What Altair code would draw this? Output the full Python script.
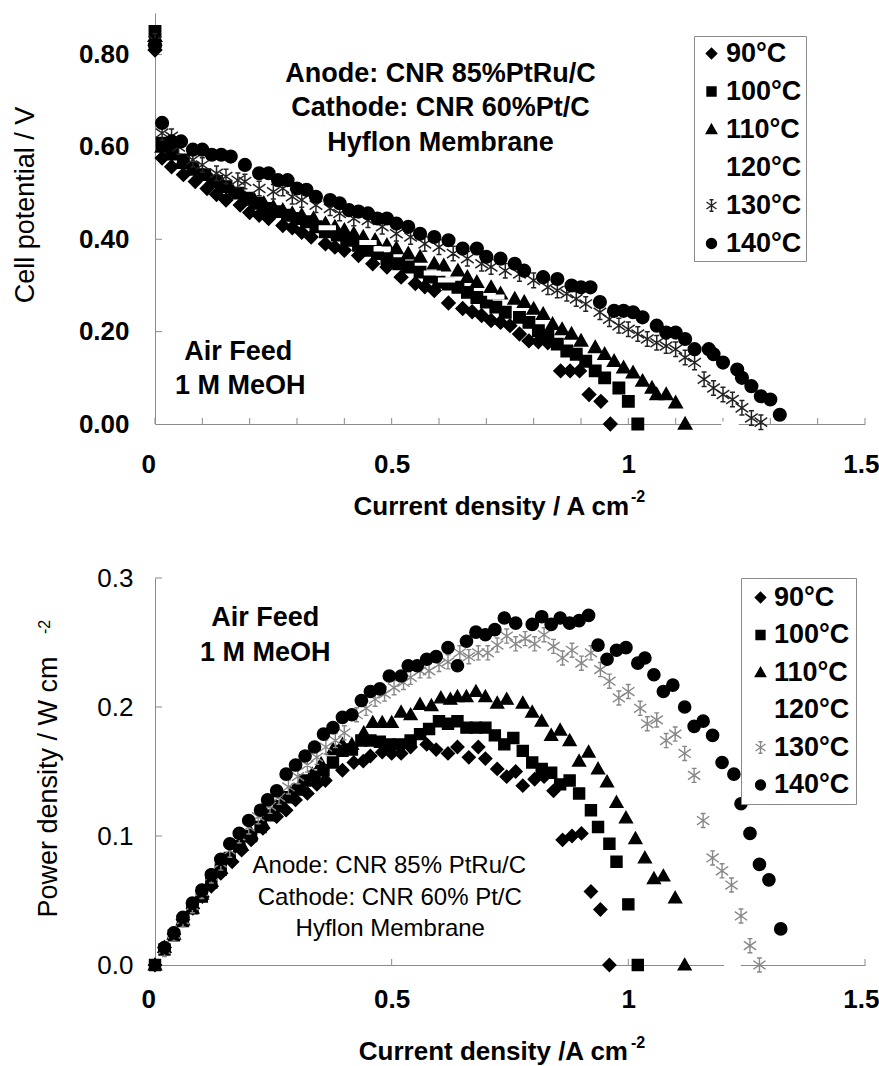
import altair as alt
import pandas as pd

FONT = "Liberation Sans"
AXC = "#8a8a8a"
SERIES = ["90°C", "100°C", "110°C", "120°C", "130°C", "140°C"]

# ---------------- top panel: cell potential (V) vs current density ----------------
I90 = [0, 0, 0.015, 0.035, 0.06, 0.085, 0.11, 0.13, 0.15, 0.18, 0.20, 0.22, 0.24, 0.27, 0.29, 0.31, 0.33, 0.36, 0.38, 0.40,
       0.43, 0.46, 0.49, 0.52, 0.55, 0.57, 0.59, 0.62, 0.65, 0.67, 0.69, 0.71, 0.73, 0.75, 0.77, 0.79, 0.81, 0.83, 0.857, 0.877,
       0.897, 0.917, 0.942, 0.962]
V90 = [0.81, 0.82, 0.576, 0.557, 0.54, 0.525, 0.51, 0.497, 0.485, 0.474, 0.458, 0.452, 0.445, 0.43, 0.425, 0.415, 0.405, 0.39,
       0.383, 0.376, 0.365, 0.347, 0.34, 0.318, 0.304, 0.297, 0.289, 0.262, 0.25, 0.243, 0.235, 0.224, 0.22, 0.213, 0.195, 0.18,
       0.178, 0.176, 0.115, 0.115, 0.115, 0.064, 0.049, 0.0]
I100 = [0, 0.015, 0.035, 0.06, 0.08, 0.105, 0.13, 0.15, 0.175, 0.195, 0.215, 0.235, 0.26, 0.28, 0.30, 0.32, 0.34, 0.36, 0.385,
        0.405, 0.43, 0.45, 0.47, 0.49, 0.515, 0.535, 0.56, 0.58, 0.60, 0.62, 0.64, 0.66, 0.68, 0.70, 0.72, 0.74, 0.77, 0.79, 0.81,
        0.83, 0.85, 0.87, 0.89, 0.91, 0.93, 0.95, 0.98, 1.0, 1.02]
V100 = [0.85, 0.608, 0.59, 0.572, 0.554, 0.54, 0.525, 0.514, 0.5, 0.489, 0.478, 0.467, 0.46, 0.452, 0.445, 0.438, 0.427, 0.416,
        0.409, 0.398, 0.387, 0.376, 0.369, 0.358, 0.347, 0.34, 0.329, 0.318, 0.307, 0.303, 0.296, 0.285, 0.274, 0.264, 0.253,
        0.242, 0.231, 0.22, 0.202, 0.191, 0.173, 0.158, 0.151, 0.136, 0.115, 0.1, 0.078, 0.049, 0.0]
I110 = [0, 0.015, 0.035, 0.055, 0.08, 0.10, 0.12, 0.145, 0.165, 0.19, 0.21, 0.23, 0.25, 0.27, 0.29, 0.31, 0.335, 0.36, 0.38,
        0.40, 0.42, 0.44, 0.465, 0.49, 0.51, 0.535, 0.56, 0.59, 0.61, 0.64, 0.66, 0.68, 0.71, 0.73, 0.76, 0.78, 0.80, 0.82, 0.84,
        0.86, 0.88, 0.90, 0.93, 0.95, 0.97, 0.99, 1.01, 1.03, 1.05, 1.06, 1.08, 1.10, 1.12]
V110 = [0.84, 0.60, 0.583, 0.565, 0.55, 0.54, 0.528, 0.514, 0.503, 0.489, 0.485, 0.478, 0.47, 0.463, 0.456, 0.452, 0.445, 0.434,
        0.427, 0.42, 0.412, 0.405, 0.398, 0.387, 0.38, 0.369, 0.362, 0.347, 0.343, 0.332, 0.318, 0.307, 0.296, 0.282, 0.271,
        0.264, 0.249, 0.238, 0.216, 0.205, 0.195, 0.18, 0.166, 0.151, 0.136, 0.122, 0.111, 0.093, 0.078, 0.064, 0.064, 0.046, 0.0]
I120 = [0.364, 0.45, 0.48, 0.586, 0.616, 0.72, 1.215]
V120 = [0.425, 0.393, 0.379, 0.327, 0.312, 0.275, 0.0]
I130 = [0, 0.015, 0.035, 0.05, 0.08, 0.10, 0.13, 0.15, 0.175, 0.19, 0.22, 0.25, 0.27, 0.29, 0.31, 0.34, 0.37, 0.39, 0.42, 0.45,
        0.48, 0.51, 0.54, 0.57, 0.60, 0.63, 0.66, 0.69, 0.71, 0.74, 0.77, 0.80, 0.83, 0.85, 0.87, 0.89, 0.91, 0.94, 0.96, 0.98,
        1.0, 1.02, 1.04, 1.06, 1.08, 1.10, 1.12, 1.14, 1.16, 1.18, 1.20, 1.22, 1.24, 1.26, 1.28]
V130 = [0.83, 0.63, 0.623, 0.60, 0.572, 0.561, 0.543, 0.536, 0.528, 0.525, 0.51, 0.503, 0.51, 0.492, 0.485, 0.474, 0.467, 0.456,
        0.445, 0.441, 0.427, 0.412, 0.405, 0.39, 0.383, 0.369, 0.358, 0.347, 0.34, 0.332, 0.325, 0.311, 0.296, 0.289, 0.282,
        0.271, 0.26, 0.242, 0.227, 0.213, 0.205, 0.195, 0.184, 0.176, 0.169, 0.162, 0.144, 0.133, 0.097, 0.078, 0.064, 0.053,
        0.035, 0.013, 0.004]
I140 = [0, 0.015, 0.035, 0.055, 0.08, 0.10, 0.12, 0.14, 0.16, 0.19, 0.22, 0.24, 0.26, 0.28, 0.30, 0.32, 0.34, 0.37, 0.39, 0.41,
        0.43, 0.45, 0.47, 0.49, 0.51, 0.535, 0.56, 0.59, 0.62, 0.65, 0.68, 0.70, 0.73, 0.76, 0.78, 0.82, 0.85, 0.88, 0.90, 0.92,
        0.94, 0.97, 0.99, 1.01, 1.03, 1.06, 1.08, 1.10, 1.12, 1.14, 1.17, 1.18, 1.20, 1.23, 1.24, 1.26, 1.28, 1.30, 1.32]
V140 = [0.82, 0.652, 0.612, 0.612, 0.594, 0.594, 0.583, 0.583, 0.579, 0.561, 0.543, 0.543, 0.528, 0.528, 0.51, 0.507, 0.492,
        0.485, 0.478, 0.463, 0.46, 0.456, 0.445, 0.445, 0.434, 0.427, 0.412, 0.405, 0.398, 0.38, 0.38, 0.362, 0.358, 0.347,
        0.332, 0.318, 0.314, 0.30, 0.296, 0.296, 0.264, 0.245, 0.245, 0.242, 0.231, 0.213, 0.198, 0.198, 0.184, 0.162, 0.162,
        0.151, 0.133, 0.118, 0.10, 0.082, 0.06, 0.053, 0.02]

# ---------------- bottom panel: power density vs current density ----------------
J90 = [0, 0.02, 0.04, 0.059, 0.08, 0.10, 0.119, 0.139, 0.163, 0.183, 0.203, 0.228, 0.257, 0.277, 0.297, 0.322, 0.342, 0.36,
       0.396, 0.42, 0.44, 0.455, 0.48, 0.50, 0.52, 0.54, 0.574, 0.594, 0.619, 0.639, 0.663, 0.683, 0.698, 0.723, 0.743, 0.762,
       0.777, 0.802, 0.822, 0.842, 0.861, 0.881, 0.901, 0.921, 0.941, 0.96]
P90 = [0, 0.0136, 0.024, 0.035, 0.044, 0.053, 0.061, 0.071, 0.08, 0.089, 0.097, 0.106, 0.115, 0.12, 0.128, 0.133, 0.14, 0.143,
       0.151, 0.157, 0.158, 0.162, 0.165, 0.164, 0.164, 0.169, 0.171, 0.167, 0.164, 0.169, 0.161, 0.169, 0.16, 0.152, 0.146,
       0.15, 0.139, 0.144, 0.146, 0.135, 0.097, 0.1, 0.102, 0.057, 0.043, 0.0]
J100 = [0, 0.02, 0.04, 0.059, 0.079, 0.099, 0.119, 0.139, 0.158, 0.178, 0.203, 0.223, 0.243, 0.262, 0.282, 0.302, 0.317, 0.337,
        0.356, 0.376, 0.396, 0.416, 0.436, 0.455, 0.475, 0.495, 0.515, 0.54, 0.56, 0.579, 0.60, 0.619, 0.639, 0.658, 0.678,
        0.698, 0.718, 0.738, 0.757, 0.777, 0.797, 0.817, 0.837, 0.856, 0.876, 0.896, 0.921, 0.936, 0.96, 0.975, 1.0, 1.02]
P100 = [0, 0.012, 0.023, 0.034, 0.044, 0.053, 0.064, 0.074, 0.083, 0.092, 0.1, 0.107, 0.116, 0.123, 0.13, 0.136, 0.143, 0.146,
        0.151, 0.157, 0.166, 0.167, 0.174, 0.174, 0.173, 0.171, 0.171, 0.174, 0.179, 0.183, 0.189, 0.187, 0.189, 0.184, 0.184,
        0.184, 0.178, 0.171, 0.176, 0.166, 0.157, 0.152, 0.149, 0.14, 0.143, 0.133, 0.12, 0.107, 0.094, 0.08, 0.047, 0.0]
J110 = [0, 0.02, 0.04, 0.059, 0.079, 0.099, 0.119, 0.139, 0.158, 0.183, 0.203, 0.228, 0.248, 0.267, 0.287, 0.307, 0.332, 0.351,
        0.376, 0.396, 0.416, 0.441, 0.46, 0.48, 0.50, 0.52, 0.54, 0.56, 0.584, 0.604, 0.624, 0.639, 0.658, 0.678, 0.698, 0.723,
        0.743, 0.777, 0.797, 0.817, 0.837, 0.856, 0.876, 0.896, 0.916, 0.936, 0.955, 0.975, 0.995, 1.015, 1.035, 1.054, 1.074,
        1.099, 1.119]
P110 = [0, 0.0136, 0.024, 0.035, 0.044, 0.055, 0.065, 0.075, 0.084, 0.093, 0.102, 0.11, 0.117, 0.125, 0.133, 0.14, 0.148, 0.156,
        0.167, 0.171, 0.171, 0.18, 0.188, 0.188, 0.188, 0.196, 0.194, 0.202, 0.201, 0.207, 0.206, 0.208, 0.208, 0.212, 0.208,
        0.203, 0.206, 0.203, 0.196, 0.189, 0.178, 0.182, 0.174, 0.158, 0.165, 0.152, 0.142, 0.126, 0.114, 0.098, 0.083, 0.067,
        0.069, 0.052, 0.0]
J120 = [1.22]
P120 = [0.0]
J130 = [0.02, 0.04, 0.059, 0.079, 0.099, 0.119, 0.139, 0.158, 0.178, 0.198, 0.218, 0.243, 0.262, 0.282, 0.302, 0.322, 0.342,
        0.361, 0.381, 0.40, 0.426, 0.446, 0.465, 0.485, 0.505, 0.525, 0.54, 0.56, 0.579, 0.60, 0.619, 0.644, 0.663, 0.683, 0.703,
        0.723, 0.743, 0.762, 0.782, 0.802, 0.822, 0.842, 0.861, 0.881, 0.901, 0.921, 0.941, 0.96, 0.98, 1.0, 1.025, 1.04, 1.06,
        1.08, 1.099, 1.119, 1.139, 1.158, 1.178, 1.198, 1.218, 1.238, 1.257, 1.277]
P130 = [0.012, 0.024, 0.035, 0.046, 0.057, 0.069, 0.079, 0.089, 0.1, 0.107, 0.115, 0.123, 0.13, 0.138, 0.146, 0.155, 0.161,
        0.169, 0.174, 0.18, 0.194, 0.199, 0.206, 0.21, 0.215, 0.219, 0.223, 0.228, 0.228, 0.233, 0.235, 0.242, 0.239, 0.242,
        0.242, 0.248, 0.255, 0.249, 0.253, 0.249, 0.256, 0.247, 0.238, 0.244, 0.234, 0.242, 0.229, 0.22, 0.207, 0.212, 0.199,
        0.187, 0.19, 0.174, 0.179, 0.164, 0.147, 0.112, 0.083, 0.073, 0.062, 0.038, 0.015, 0.0]
J140 = [0.02, 0.04, 0.059, 0.079, 0.099, 0.119, 0.139, 0.158, 0.178, 0.198, 0.223, 0.238, 0.257, 0.277, 0.297, 0.317, 0.337,
        0.356, 0.376, 0.396, 0.416, 0.436, 0.455, 0.475, 0.495, 0.52, 0.535, 0.554, 0.574, 0.594, 0.619, 0.639, 0.658, 0.678,
        0.698, 0.718, 0.738, 0.762, 0.797, 0.817, 0.837, 0.856, 0.876, 0.896, 0.916, 0.936, 0.955, 0.975, 0.995, 1.02, 1.035,
        1.054, 1.074, 1.094, 1.119, 1.139, 1.158, 1.178, 1.198, 1.223, 1.238, 1.257, 1.277, 1.297, 1.322]
P140 = [0.0136, 0.025, 0.037, 0.048, 0.058, 0.07, 0.082, 0.094, 0.102, 0.112, 0.12, 0.128, 0.135, 0.148, 0.155, 0.162, 0.169,
        0.179, 0.184, 0.192, 0.194, 0.205, 0.212, 0.214, 0.224, 0.224, 0.232, 0.232, 0.237, 0.239, 0.246, 0.232, 0.251, 0.258,
        0.256, 0.26, 0.269, 0.265, 0.264, 0.27, 0.264, 0.269, 0.265, 0.267, 0.271, 0.248, 0.237, 0.244, 0.246, 0.234, 0.238,
        0.225, 0.212, 0.217, 0.2, 0.185, 0.189, 0.178, 0.157, 0.148, 0.125, 0.102, 0.078, 0.066, 0.028]

# ---------------- ticks / labels ----------------
XT_TOP = [0, 0.1, 0.2, 0.3, 0.4, 0.5, 0.6, 0.7, 0.8, 0.9, 1.0, 1.1, 1.2, 1.3, 1.4, 1.5]
YT_TOP = [0.2, 0.4, 0.6, 0.8]
XT_BOT = [0.5, 1.0, 1.5]
YT_BOT = [0.1, 0.2, 0.3]
XLAB = [0, 0.5, 1, 1.5]
YLAB_TOP = [0, 0.2, 0.4, 0.6, 0.8]
YLAB_BOT = [0, 0.1, 0.2, 0.3]

# annotations (data coordinates)
NOTE_TOP_T = ["Anode: CNR 85%PtRu/C", "Cathode: CNR 60%Pt/C", "Hyflon Membrane", "Air Feed", "1 M MeOH"]
NOTE_TOP_X = [0.603, 0.603, 0.603, 0.176, 0.18]
NOTE_TOP_Y = [0.757, 0.685, 0.608, 0.155, 0.082]
NOTE_BOT_T = ["Anode: CNR 85% PtRu/C", "Cathode: CNR 60% Pt/C", "Hyflon Membrane"]
NOTE_BOT_X = [0.495, 0.496, 0.497]
NOTE_BOT_Y = [0.0764, 0.052, 0.0277]
FEED_BOT_T = ["Air Feed", "1 M MeOH"]
FEED_BOT_X = [0.233, 0.233]
FEED_BOT_Y = [0.269, 0.242]

W, HT, HB = 710, 411, 387

DIAMOND = "M-1.05,0L0,-1.05L1.05,0L0,1.05Z"
SQUARE = "M-0.9,-0.9L0.9,-0.9L0.9,0.9L-0.9,0.9Z"
TRI = "M0,-1.05L1.05,0.8L-1.05,0.8Z"
BAR = "M-1.25,-0.28L1.25,-0.28L1.25,0.28L-1.25,0.28Z"
STAR = ("M0,-1.15L0,1.15M-1.0,-0.7L1.0,0.7M-1.0,0.7L1.0,-0.7"
        "M-0.4,-1.15L0.4,-1.15M-0.4,1.15L0.4,1.15")
SHAPES = [DIAMOND, SQUARE, TRI, BAR, STAR, "circle"]
FILLS = ["black", "black", "black", "white", "transparent", "black"]


def build_df(Is, Vs):
    rows = []
    k = 0
    for s, I, V in zip(SERIES, Is, Vs):
        for a, b in zip(I, V):
            rows.append({"series": s, "I": a, "y": b, "k": k})
            k += 1
    return pd.DataFrame(rows)


def text_at(txt, x, y, size, weight="normal", angle=0, align="center"):
    return alt.Chart(pd.DataFrame({"t": [txt]})).mark_text(
        font=FONT, fontSize=size, fontWeight=weight, angle=angle, align=align,
        baseline="middle", color="black"
    ).encode(text="t:N", x=alt.value(x), y=alt.value(y))


def panel(df, H, ymax, ylab, yfmt, yweight, ypad, xpad, xticks, yticks, star_color, star_w, msize,
          legend, notes, extras):
    sx = alt.Scale(domain=[0, 1.5], nice=False, zero=False)
    sy = alt.Scale(domain=[0, ymax], nice=False, zero=False)
    ax = alt.Axis(values=XLAB, format="~g", title=None, ticks=False, tickSize=0, labelPadding=xpad,
                  labelFont=FONT, labelFontSize=26, labelFontWeight="bold", labelColor="black",
                  domainColor=AXC, grid=False, labelFlush=True, labelFlushOffset=14)
    ay = alt.Axis(values=ylab, format=yfmt, title=None, ticks=False, tickSize=0, labelPadding=ypad,
                  labelFont=FONT, labelFontSize=26, labelFontWeight=yweight, labelColor="black",
                  domainColor=AXC, grid=False)
    X = alt.X("I:Q", scale=sx, axis=ax)
    Y = alt.Y("y:Q", scale=sy, axis=ay)

    xt = alt.Chart(pd.DataFrame({"I": xticks})).mark_rule(color=AXC).encode(
        x=X, y=alt.value(H), y2=alt.value(H - 6))
    yt = alt.Chart(pd.DataFrame({"y": yticks})).mark_rule(color=AXC).encode(
        y=Y, x=alt.value(0), x2=alt.value(7))
    strokes = ["black", "black", "black", "white", star_color, "black"]
    pts = alt.Chart(df).mark_point(size=msize, opacity=1, strokeWidth=star_w).encode(
        x=X, y=Y,
        shape=alt.Shape("series:N", scale=alt.Scale(domain=SERIES, range=SHAPES), legend=legend),
        fill=alt.Fill("series:N", scale=alt.Scale(domain=SERIES, range=FILLS), legend=legend),
        stroke=alt.Stroke("series:N", scale=alt.Scale(domain=SERIES, range=strokes), legend=legend),
        order=alt.Order("k:Q"),
    )
    layers = [xt, yt, pts]
    for (tx, xs, ys, size, weight) in notes:
        layers.append(
            alt.Chart(pd.DataFrame({"t": tx, "I": xs, "y": ys})).mark_text(
                font=FONT, fontSize=size, fontWeight=weight, color="black", baseline="middle"
            ).encode(x=X, y=Y, text="t:N")
        )
    layers.extend(extras)
    return alt.layer(*layers).properties(width=W, height=H)


legend_top = alt.Legend(title=None, orient="none", legendX=539, legendY=23, padding=4,
                        strokeColor=AXC, fillColor="white", labelFont=FONT, labelFontSize=27,
                        labelFontWeight="bold", labelColor="black", symbolSize=100, labelOffset=1,
                        rowPadding=10, labelExpr="datum.label + '  '", symbolStrokeWidth=1.4)
legend_bot = alt.Legend(title=None, orient="none", legendX=586, legendY=0, padding=6,
                        strokeColor=AXC, fillColor="white", labelFont=FONT, labelFontSize=27,
                        labelFontWeight="bold", labelColor="black", symbolSize=100, labelOffset=0,
                        rowPadding=9.5, labelExpr="datum.label + ' '", symbolStrokeWidth=1.3)

df_top = build_df([I90, I100, I110, I120, I130, I140], [V90, V100, V110, V120, V130, V140])
df_bot = build_df([J90, J100, J110, J120, J130, J140], [P90, P100, P110, P120, P130, P140])

top = panel(
    df_top, HT, 0.89, YLAB_TOP, ".2f", "bold", 26, 27, XT_TOP, YT_TOP, "#222222", 1.5, 160, legend_top,
    [(NOTE_TOP_T, NOTE_TOP_X, NOTE_TOP_Y, 27, "bold")],
    [
        text_at("Cell potential / V", -129, 192, 27, angle=270),
        text_at("Current density / A cm", 474, 494, 26, weight="bold", align="right"),
        text_at("-2", 476, 484, 16, weight="bold", align="left"),
    ],
)

bot = panel(
    df_bot, HB, 0.3, YLAB_BOT, ".1f", "normal", 22, 21, XT_BOT, YT_BOT, "#888888", 1.4, 150, legend_bot,
    [(NOTE_BOT_T, NOTE_BOT_X, NOTE_BOT_Y, 24, "normal"),
     (FEED_BOT_T, FEED_BOT_X, FEED_BOT_Y, 27, "bold")],
    [
        text_at("Power density / W cm", -106, 209, 27, angle=270),
        text_at("-2", -110, 49, 16, angle=270),
        text_at("Current density /A cm", 473, 474, 26, weight="bold", align="right"),
        text_at("-2", 476, 465, 16, weight="bold", align="left"),
    ],
)

chart = alt.vconcat(top, bot, spacing=45).resolve_scale(
    shape="independent", fill="independent", stroke="independent", x="independent", y="independent"
).properties(
    padding={"left": 12, "top": 13, "right": 0, "bottom": 0}, background="white"
).configure_view(stroke=None)

chart.save("out.html", embed_options={"renderer": "svg", "actions": False})
